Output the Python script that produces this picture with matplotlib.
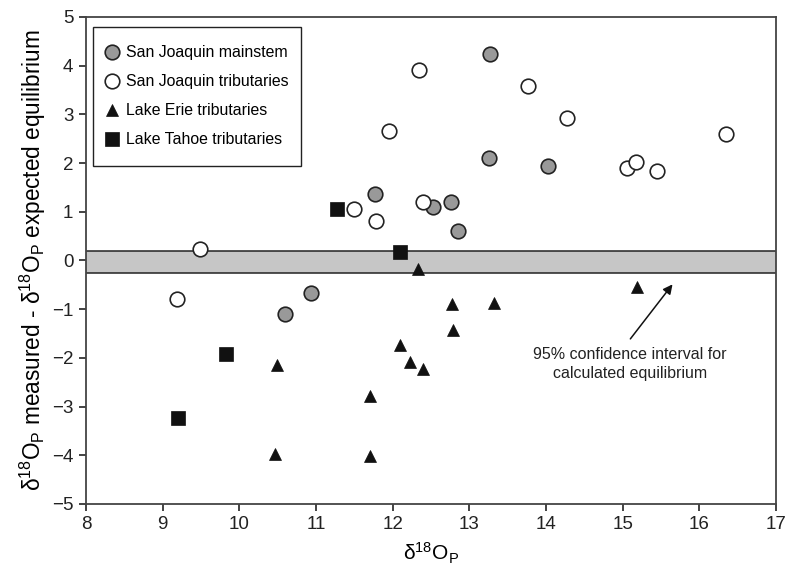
import matplotlib
matplotlib.use("Agg")
import matplotlib.pyplot as plt
from matplotlib.patches import Rectangle

plt.rcParams['font.family'] = ['Liberation Sans', 'DejaVu Sans']
plt.rcParams['mathtext.fontset'] = 'custom'
plt.rcParams['mathtext.rm'] = 'Liberation Sans'
plt.rcParams['mathtext.it'] = 'Liberation Sans:italic'
plt.rcParams['mathtext.bf'] = 'Liberation Sans:bold'

# San Joaquin mainstem
sjm_x = [10.60, 10.93, 11.77, 12.53, 12.76, 12.85, 13.25, 13.27, 14.02]
sjm_y = [-1.09, -0.67, 1.37, 1.10, 1.20, 0.60, 2.11, 4.24, 1.95]
# San Joaquin tributaries
sjt_x = [9.19, 9.49, 11.50, 11.78, 11.95, 12.35, 12.39, 13.76, 14.27, 15.06, 15.18, 15.45, 16.35]
sjt_y = [-0.79, 0.23, 1.06, 0.82, 2.65, 3.92, 1.20, 3.58, 2.93, 1.90, 2.02, 1.83, 2.59]
# Lake Erie tributaries
let_x = [10.47, 10.49, 11.70, 11.70, 12.09, 12.23, 12.33, 12.40, 12.78, 12.79, 13.32, 15.19]
let_y = [-3.98, -2.15, -2.79, -4.02, -1.74, -2.09, -0.18, -2.22, -0.90, -1.42, -0.87, -0.55]
# Lake Tahoe tributaries
ltt_x = [9.20, 9.83, 11.28, 12.10]
ltt_y = [-3.23, -1.91, 1.06, 0.18]

band_low, band_high = -0.25, 0.19

fig = plt.figure(figsize=(7.88, 5.72), dpi=100)
ax = fig.add_axes([0.1091, 0.1189, 0.8757, 0.8514])

ax.axhspan(band_low, band_high, facecolor='#c6c6c6', edgecolor='none', zorder=1)
ax.axhline(band_low, color='#222222', lw=1.1, zorder=1.5)
ax.axhline(band_high, color='#222222', lw=1.1, zorder=1.5)

ax.plot(sjm_x, sjm_y, 'o', ms=10.5, mfc='#999999', mec='#222222', mew=1.2,
        ls='none', label='San Joaquin mainstem', zorder=3)
ax.plot(sjt_x, sjt_y, 'o', ms=10.5, mfc='white', mec='#222222', mew=1.2,
        ls='none', label='San Joaquin tributaries', zorder=3)
ax.plot(let_x, let_y, '^', ms=8.5, mfc='#111111', mec='#111111', mew=0.5,
        ls='none', label='Lake Erie tributaries', zorder=3)
ax.plot(ltt_x, ltt_y, 's', ms=10.5, mfc='#111111', mec='#111111', mew=0.5,
        ls='none', label='Lake Tahoe tributaries', zorder=3)

ax.set_xlim(8, 17)
ax.set_ylim(-5, 5)
ax.set_xticks(range(8, 18))
ax.set_yticks(range(-5, 6))
ax.set_yticklabels([str(v).replace('-', '\u2212') for v in range(-5, 6)])
ax.tick_params(direction='out', length=5, width=1.2, labelsize=13.5, colors='#222222', pad=4)
for s in ax.spines.values():
    s.set_color('#444444')
    s.set_linewidth(1.3)

ax.set_xlabel(r'$\mathrm{\delta}^{18}\mathrm{O}_{\mathrm{P}}$', fontsize=15, labelpad=5)
ax.set_ylabel(r'$\mathrm{\delta}^{18}\mathrm{O}_{\mathrm{P}}$ measured - '
              r'$\mathrm{\delta}^{18}\mathrm{O}_{\mathrm{P}}$ expected equilibrium',
              fontsize=16.3, labelpad=3)

ax.annotate('', xy=(15.65, -0.49), xytext=(15.10, -1.61),
            arrowprops=dict(arrowstyle='-|>', color='#111111', lw=1.1,
                            mutation_scale=14, shrinkA=0, shrinkB=0))
ax.text(15.09, -2.13, '95% confidence interval for\ncalculated equilibrium',
        ha='center', va='center', fontsize=11.5, color='#222222', linespacing=1.3)

# legend frame drawn separately for its uneven padding
ax.add_patch(Rectangle((0.0101, 0.6947), 0.3015, 0.2842, transform=ax.transAxes,
                       facecolor='white', edgecolor='#222222', lw=1.0, zorder=4))
leg = ax.legend(loc='upper left', bbox_to_anchor=(0.0267, 0.9415), fontsize=11.4,
                frameon=False, borderpad=0, labelspacing=0.88, handletextpad=0.35,
                handlelength=1.0, borderaxespad=0, numpoints=1)
leg.set_zorder(5)

fig.savefig('out.png', dpi=100)
